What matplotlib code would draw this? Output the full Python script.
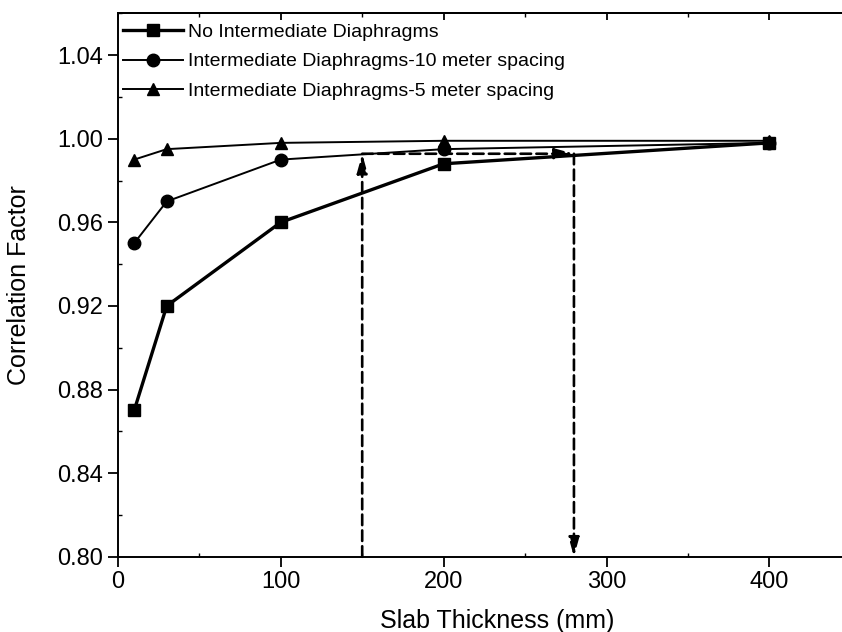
import matplotlib
matplotlib.use("Agg")
import matplotlib.pyplot as plt
from matplotlib.ticker import MultipleLocator

plt.rcParams['font.family'] = ['Liberation Sans', 'DejaVu Sans']

thickness = [10, 30, 100, 200, 400]
no_diaphragm = [0.870, 0.920, 0.960, 0.988, 0.998]
diaphragm_10m = [0.950, 0.970, 0.990, 0.995, 0.998]
diaphragm_5m = [0.990, 0.995, 0.998, 0.999, 0.999]

labels = ["No Intermediate Diaphragms",
          "Intermediate Diaphragms-10 meter spacing",
          "Intermediate Diaphragms-5 meter spacing"]

# reading path: 150 mm up to the curve, across, then down to 280 mm
read_x0, read_x1, read_y = 150, 280, 0.9928

fig = plt.figure(figsize=(8.42, 6.32), dpi=100)
ax = fig.add_axes([0.140, 0.119, 0.8705, 0.860])

ax.plot(thickness, no_diaphragm, '-s', color='black', lw=2.4, ms=9, label=labels[0])
ax.plot(thickness, diaphragm_10m, '-o', color='black', lw=1.4, ms=9, label=labels[1])
ax.plot(thickness, diaphragm_5m, '-^', color='black', lw=1.4, ms=9, label=labels[2])

arrow = dict(arrowstyle='-|>,head_length=0.8,head_width=0.22', color='black', lw=1.9,
             linestyle=(0, (4, 2)), mutation_scale=14, shrinkA=0, shrinkB=0)
ax.annotate('', xy=(read_x0, read_y), xytext=(read_x0, 0.80), arrowprops=arrow)
ax.annotate('', xy=(read_x1, read_y), xytext=(read_x0, read_y), arrowprops=arrow)
ax.annotate('', xy=(read_x1, 0.80), xytext=(read_x1, read_y), arrowprops=arrow)

ax.set_xlim(0, 450)
ax.set_ylim(0.80, 1.06)
ax.xaxis.set_major_locator(MultipleLocator(100))
ax.xaxis.set_minor_locator(MultipleLocator(50))
ax.yaxis.set_major_locator(MultipleLocator(0.04))
ax.yaxis.set_minor_locator(MultipleLocator(0.02))
ax.yaxis.set_major_formatter(plt.FormatStrFormatter('%.2f'))

ax.tick_params(which='major', direction='out', length=7, width=1.3, labelsize=17)
ax.tick_params(which='minor', direction='in', length=3, width=1.0)

# top spine carries inward ticks only
top = ax.secondary_xaxis('top')
top.xaxis.set_major_locator(MultipleLocator(100))
top.xaxis.set_minor_locator(MultipleLocator(50))
top.tick_params(which='major', direction='in', length=5, width=1.3, labeltop=False)
top.tick_params(which='minor', direction='in', length=3, width=1.0)
top.spines['top'].set_linewidth(1.4)

for s in ax.spines.values():
    s.set_linewidth(1.4)

ax.set_xlabel("Slab Thickness (mm)", fontsize=18)
ax.set_ylabel("Correlation Factor", fontsize=18)
ax.xaxis.set_label_coords(0.517, -0.096)
ax.yaxis.set_label_coords(-0.118, 0.5)

ax.legend(loc='upper left', bbox_to_anchor=(0.007, 0.982), frameon=False,
          fontsize=14, handlelength=3.1, borderaxespad=0, borderpad=0,
          labelspacing=0.62, handletextpad=0.25)

fig.savefig("out.png", dpi=100)
